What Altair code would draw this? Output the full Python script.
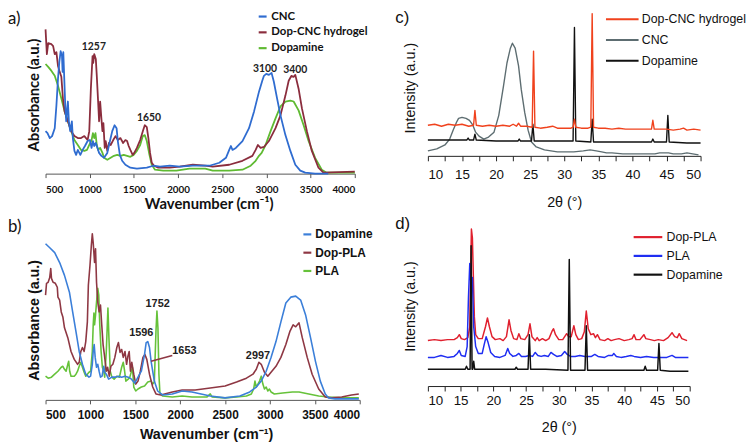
import altair as alt
import pandas as pd

# ---------------- Panel a : FTIR (CNC / Dop-CNC hydrogel / Dopamine) ----------------
A_NAMES = ["CNC", "Dop-CNC hydrogel", "Dopamine"]
A_COLORS = ["#2f6cd0", "#8b2d3d", "#5fba32"]
A_TICKS = [500, 1000, 1500, 2000, 2500, 3000, 3500, 4000]
A_CNC = [(500,43),(522,41),(548,36),(574,38),(604,46),(623,69),(641,96),(656,113),(671,124),(686,119),
         (693,103),(701,123),(712,96),(723,69),(734,53),(746,66),(753,73),(764,53),(779,43),(798,53),
         (809,36),(827,23),(846,19),(865,24),(894,19),(920,24),(946,28),(976,33),(1002,34),(1021,26),
         (1036,33),(1051,28),(1069,31),(1088,26),(1106,21),(1132,18),(1162,16),(1199,21),(1229,33),
         (1255,43),(1281,49),(1304,46),(1318,33),(1341,19),(1367,13),(1404,9),(1460,6),(1534,5),
         (1646,6),(1720,8),(1795,7),(1906,8),(2018,7),(2167,8),(2308,8),(2355,8),(2467,11),(2542,16),
         (2579,24),(2598,28),(2616,24),(2654,26),(2729,33),(2803,46),(2860,63),(2916,83),(2953,94),
         (2972,99),(2998,101),(3028,100),(3058,102),(3084,93),(3121,76),(3159,59),(3215,39),(3271,23),
         (3327,9),(3383,3),(3439,1),(3550,0),(3700,0)]
A_DOPCNC = [(500,146),(515,121),(530,132),(567,131),(586,129),(604,121),(623,123),(641,109),(660,103),
            (679,98),(697,76),(716,63),(753,53),(790,43),(827,38),(865,36),(902,36),(939,38),(976,34),
            (995,43),(1013,86),(1032,119),(1040,112),(1051,121),(1069,116),(1080,99),(1095,73),(1106,53),
            (1118,73),(1132,56),(1144,43),(1155,51),(1170,26),(1181,33),(1199,23),(1218,31),(1237,29),
            (1266,34),(1292,38),(1318,34),(1348,36),(1378,31),(1404,34),(1423,33),(1441,28),(1460,24),
            (1486,19),(1504,21),(1534,26),(1571,34),(1601,43),(1623,49),(1646,47),(1664,36),(1683,21),
            (1702,11),(1728,8),(1776,6),(1906,6),(2018,7),(2167,9),(2308,8),(2392,7),(2579,9),(2729,13),
            (2841,18),(2878,24),(2904,29),(2934,26),(2972,27),(3028,33),(3103,46),(3159,59),(3215,79),
            (3252,94),(3282,99),(3308,98),(3327,100),(3364,86),(3402,66),(3458,43),(3514,23),(3589,6),
            (3645,1),(4000,2)]
A_DOPA = [(500,111),(530,108),(567,104),(604,99),(641,89),(679,76),(716,63),(753,53),(790,43),(827,34),
          (865,29),(902,24),(939,23),(969,24),(995,29),(1021,34),(1036,41),(1051,36),(1065,41),(1080,29),
          (1095,24),(1118,26),(1144,21),(1162,16),(1199,14),(1237,16),(1274,18),(1311,19),(1348,18),
          (1385,19),(1423,18),(1460,17),(1497,19),(1534,23),(1571,29),(1601,38),(1623,39),(1646,33),
          (1676,19),(1702,9),(1739,4),(1832,3),(1981,3),(2129,5),(2308,5),(2392,3),(2579,3),(2729,4),
          (2822,8),(2878,13),(2916,18),(2946,21),(2990,29),(3047,43),(3103,56),(3159,68),(3215,73),
          (3271,74),(3308,73),(3364,64),(3421,49),(3477,33),(3551,16),(3626,4),(3682,1),(4000,1)]
A_PEAKS = [("1257", 1047, 128), ("1650", 1672, 56), ("3100", 2983, 106), ("3400", 3327, 105)]

# ---------------- Panel b : FTIR (Dopamine / Dop-PLA / PLA) ----------------
B_NAMES = ["Dopamine", "Dop-PLA", "PLA"]
B_COLORS = ["#3b7fd9", "#8e3743", "#66c23a"]
B_DOPA = [(500,158),(547,154),(602,149),(657,139),(711,126),(766,109),(802,89),(839,69),(875,49),(911,36),
          (948,26),(984,23),(1002,24),(1021,36),(1031,49),(1042,56),(1053,43),(1068,33),(1082,36),(1097,29),
          (1112,23),(1130,24),(1148,34),(1159,28),(1177,26),(1203,21),(1239,23),(1275,23),(1312,24),
          (1348,23),(1385,24),(1421,23),(1457,21),(1494,17),(1530,23),(1567,29),(1603,46),(1621,58),
          (1639,59),(1658,53),(1676,39),(1712,19),(1749,9),(1803,5),(1912,6),(2022,9),(2131,8),(2335,4),
          (2500,2),(2665,4),(2775,8),(2848,13),(2903,19),(2958,29),(3012,43),(3067,59),(3122,79),(3177,98),
          (3232,104),(3287,105),(3342,101),(3397,86),(3452,63),(3507,39),(3561,19),(3616,6),(3653,2),
          (3726,1),(3990,1)]
B_DOPPLA = [(500,106),(511,118),(529,119),(547,124),(558,133),(566,123),(584,119),(609,118),(631,114),
            (638,104),(657,101),(675,89),(693,84),(711,73),(748,63),(784,49),(820,41),(857,36),(875,38),
            (893,49),(911,53),(930,49),(948,59),(966,79),(977,116),(995,136),(1010,156),(1021,168),
            (1031,159),(1046,139),(1057,153),(1068,119),(1082,99),(1097,89),(1112,96),(1126,76),(1141,56),
            (1155,46),(1177,29),(1192,33),(1210,24),(1228,34),(1250,36),(1272,43),(1294,53),(1312,58),
            (1330,48),(1348,51),(1366,43),(1385,49),(1403,36),(1417,44),(1432,49),(1446,29),(1461,38),
            (1483,26),(1505,16),(1530,19),(1556,29),(1585,43),(1607,46),(1628,41),(1658,26),(1694,13),
            (1730,6),(1785,5),(1912,8),(2022,10),(2167,10),(2335,12),(2500,14),(2628,18),(2738,22),
            (2811,26),(2848,31),(2877,38),(2903,36),(2939,28),(2976,24),(3012,28),(3067,34),(3122,43),
            (3177,56),(3221,69),(3258,76),(3287,74),(3324,78),(3360,63),(3415,43),(3470,26),(3543,11),
            (3616,3),(3690,2),(3799,3),(3909,5),(3990,6)]
B_PLA = [(500,24),(529,22),(566,23),(602,26),(638,29),(675,33),(693,34),(711,31),(729,29),(748,36),(758,39),
         (769,29),(784,24),(820,24),(839,26),(857,29),(875,34),(893,38),(911,33),(930,28),(948,24),(984,28),
         (1002,29),(1021,49),(1031,76),(1039,88),(1046,76),(1057,86),(1068,99),(1082,113),(1093,106),
         (1104,76),(1119,49),(1133,33),(1148,29),(1159,23),(1177,49),(1188,76),(1195,93),(1206,63),
         (1221,29),(1239,23),(1264,21),(1294,24),(1323,23),(1348,33),(1366,38),(1381,29),(1395,19),
         (1421,21),(1439,23),(1457,29),(1468,33),(1483,13),(1505,9),(1530,11),(1567,13),(1603,14),
         (1639,18),(1676,19),(1694,16),(1712,18),(1730,69),(1741,90),(1752,73),(1763,26),(1774,7),
         (1803,4),(1912,3),(2022,4),(2131,3),(2299,3),(2335,6),(2354,3),(2500,2),(2628,3),(2738,4),
         (2793,6),(2818,11),(2833,19),(2848,13),(2866,16),(2884,19),(2903,24),(2921,16),(2939,11),
         (2958,13),(2976,9),(2994,11),(3012,8),(3049,6),(3141,7),(3250,8),(3324,8),(3433,6),(3543,4),
         (3653,3),(3799,2),(3990,2)]
B_PEAKS = [("1596", 1567, 68), ("1752", 1749, 97), ("1653", 2047, 49), ("2997", 2866, 44)]
B_LEADER = [(1676, 39, 1912, 45)]

# ---------------- Panel c : XRD (Dop-CNC hydrogel / CNC / Dopamine) ----------------
C_NAMES = ["Dop-CNC hydrogel", "CNC", "Dopamine"]
C_COLORS = ["#f0421d", "#5d6d71", "#111111"]
C_TICKS = [10, 12.5, 15, 17.5, 20, 22.5, 25, 27.5, 30, 32.5, 35, 37.5, 40, 42.5, 45, 47.5, 50]
C_CNC = [(10.0,5),(11.3,7),(12.5,11),(13.2,17),(13.7,26),(14.2,34),(14.5,38),(15.0,39),(15.6,38),(16.1,36),
         (16.6,31),(17.0,24),(17.5,20),(18.2,17),(18.9,19),(19.7,24),(20.4,41),(21.1,71),(21.6,94),
         (22.1,109),(22.4,114),(22.8,109),(23.3,91),(23.7,67),(24.2,44),(24.7,26),(25.2,14),(25.9,9),
         (27.1,6),(29.0,4),(31.4,4),(32.8,5),(33.8,6),(34.7,5),(35.5,4),(36.2,3),(37.0,3),(38.6,2),
         (40.0,2),(41.4,2),(43.3,2),(44.0,3),(45.3,3),(46.0,2),(47.2,2),(48.0,3),(49.7,1)]
C_DOPA = [(10,16),(12,16),(14,16),(15.7,16),(15.9,18),(16.1,16),(16.7,16),(16.9,22),(17.1,16),(20,15),
          (23.2,15),(23.4,17),(23.6,15),(25.2,15),(25.4,32),(25.6,15),(28,15),(31.3,15),(31.5,130),
          (31.7,15),(33.9,14),(34.1,37),(34.3,14),(38,14),(42.8,14),(43.0,17),(43.2,14),(45.0,14),
          (45.2,41),(45.4,14),(48,13),(50,13)]
C_DOPCNC = [(10,31),(11,32),(12,30),(13,32),(14,31),(15,32),(16,30),(16.7,31),(16.9,46),(17.1,31),(18,30),
            (19,31),(20,30),(21,31),(22,30),(22.5,32),(23,30),(23.3,33),(23.6,30),(24.5,30),(25.3,29),
            (25.5,106),(25.7,29),(26.5,28),(27.5,29),(28.3,30),(29,28),(30,28),(31,28),(31.3,29),(31.5,37),
            (31.7,29),(32.5,28),(33.5,28),(33.9,29),(34.1,144),(34.3,29),(35,28),(36,28),(37,27),(38,28),
            (39,27),(40,27),(41,27),(42,27),(42.8,27),(43.0,36),(43.2,27),(44,27),(45,27),(46,26),(47,27),
            (47.5,28),(48,26),(49,27),(50,26)]

# ---------------- Panel d : XRD (Dop-PLA / PLA / Dopamine) ----------------
D_NAMES = ["Dop-PLA", "PLA", "Dopamine"]
D_COLORS = ["#e0202e", "#1f2ef2", "#111111"]
D_DOPPLA = [(10,46),(11,47),(12,46),(13,47),(14,47),(14.5,49),(14.8,52),(15.1,48),(15.6,47),(16.1,49),
            (16.4,60),(16.55,120),(16.65,159),(16.8,150),(16.95,110),(17.1,70),(17.3,52),(17.7,48),
            (18.3,48),(18.8,60),(19.1,69),(19.4,60),(19.8,50),(20.3,47),(21,48),(21.5,46),(22,50),
            (22.4,67),(22.7,56),(23.1,48),(23.6,47),(23.9,53),(24.2,48),(24.8,47),(25.3,52),(25.6,63),
            (25.9,50),(26.4,46),(26.7,49),(27,46),(27.5,48),(28,46),(28.5,48),(29.0,56),(29.2,58),(29.5,52),
            (30,47),(30.6,47),(31.2,53),(31.5,50),(31.9,50),(32.3,61),(32.6,52),(33,47),(33.5,48),(33.9,55),
            (34.2,76),(34.5,58),(34.9,52),(35.3,53),(35.6,49),(35.9,52),(36.3,47),(37,46),(37.5,48),(38,46),
            (38.5,47),(39.2,48),(40,46),(40.7,47),(41.2,48),(41.5,52),(41.8,47),(42.4,47),(43.0,52),
            (43.3,48),(44,47),(44.6,46),(45.2,47),(46,46),(46.7,49),(47.3,54),(47.7,50),(48.1,49),(48.4,53),
            (48.8,48),(49.6,46)]
D_PLA = [(10,29),(11,29),(12,31),(13,29),(14,30),(14.5,33),(14.8,36),(15.1,31),(15.7,30),(16.0,40),(16.2,90),
         (16.4,124),(16.6,100),(16.8,110),(17.0,60),(17.3,40),(17.7,33),(18.3,33),(18.6,42),(18.9,50),
         (19.2,44),(19.6,34),(20.2,30),(21,29),(21.8,31),(22.2,38),(22.5,33),(23,30),(23.5,31),(23.9,33),
         (24.3,30),(24.9,30),(25.5,31),(26.0,30),(26.4,34),(26.8,31),(27.3,30),(27.8,31),(28.4,30),
         (28.8,34),(29.2,32),(29.7,30),(30.4,31),(30.9,35),(31.3,32),(31.8,30),(32.5,30),(33.2,31),(34,30),
         (35.0,30),(35.5,32),(36,30),(37,29),(37.6,31),(38.2,31),(38.4,33),(38.8,30),(39.5,29),(40.3,30),
         (41,31),(41.5,30),(42.5,29),(43.4,30),(44.5,29),(45.5,29),(46.5,29),(47.3,31),(47.8,29),(48.8,29),
         (49.8,29)]
D_DOPA = [(10,17),(12,17),(14,17),(15.7,17),(15.9,20),(16.1,17),(16.45,17),(16.6,142),(16.75,17),(16.85,17),
          (17.0,25),(17.15,17),(19,17),(21,17),(23.3,17),(23.5,19),(23.7,17),(25.3,17),(25.5,52),(25.7,17),
          (28,17),(31.4,16),(31.6,128),(31.8,16),(34.0,16),(34.2,61),(34.4,16),(37,16),(40,16),(43.0,16),
          (43.2,20),(43.4,16),(45.1,16),(45.3,43),(45.5,16),(47,15),(49.8,15)]


def series_df(name, pts):
    return pd.DataFrame({"series": name,
                         "x": [p[0] for p in pts],
                         "y": [p[1] for p in pts],
                         "i": list(range(len(pts)))})


def panel(series, names, colors, order, width, height, xdom, ydom, xaxis, yaxis,
          legend, title, stroke, peaks=None, peak_style=None, leaders=None, leader_color=None):
    color = alt.Color("series:N", scale=alt.Scale(domain=names, range=colors), legend=legend)
    x = alt.X("x:Q", scale=alt.Scale(domain=xdom, nice=False, zero=False), axis=xaxis)
    y = alt.Y("y:Q", scale=alt.Scale(domain=ydom, nice=False, zero=False), axis=yaxis)
    layers = []
    for n in order:
        layers.append(alt.Chart(series_df(n, series[n])).mark_line(
            strokeWidth=stroke, strokeJoin="round").encode(x=x, y=y, color=color, order="i:Q"))
    if peaks:
        pdf = pd.DataFrame(peaks, columns=["t", "x", "y"])
        layers.append(alt.Chart(pdf).mark_text(**peak_style).encode(x=x, y=y, text="t:N"))
    if leaders:
        ldf = pd.DataFrame(leaders, columns=["x", "y", "x2", "y2"])
        layers.append(alt.Chart(ldf).mark_rule(color=leader_color, strokeWidth=1.6).encode(
            x=x, y=y, x2="x2:Q", y2="y2:Q"))
    return alt.layer(*layers).properties(width=width, height=height, title=title)


def ftir_xaxis(font, size, lpad, title_font, title_size, tpad, tx):
    return alt.Axis(values=A_TICKS, format="d", title="Wavenumber (cm⁻¹)", grid=False,
                    domainColor="#555", tickColor="#555", tickSize=4, labelFont=font,
                    labelFontSize=size, labelFontWeight="bold", labelColor="#111", labelPadding=lpad,
                    titleFont=title_font, titleFontSize=title_size, titleFontWeight="bold",
                    titleColor="#111", titlePadding=tpad, titleAnchor="start", titleX=tx)


def xrd_xaxis(lpad, tpad):
    return alt.Axis(values=C_TICKS, title="2θ (°)", grid=False, domainColor="#222", tickColor="#222",
                    tickSize=5, labelFont="Liberation Sans", labelFontSize=13.5, labelColor="#111",
                    labelPadding=lpad, labelExpr="datum.value % 5 == 0 ? datum.label : ''",
                    titleFont="Liberation Sans", titleFontSize=14.5, titleFontWeight="normal",
                    titleColor="#111", titlePadding=tpad)


def yaxis(title, font, size, weight, pad, ty):
    return alt.Axis(title=title, domain=False, ticks=False, labels=False, grid=False,
                    titleFont=font, titleFontSize=size, titleFontWeight=weight, titleColor="#111",
                    titlePadding=pad, titleY=ty)


def legend(font, size, weight, lx, ly, sym, ssize, rowpad, loff):
    return alt.Legend(orient="none", legendX=lx, legendY=ly, title=None, direction="vertical",
                      symbolType=sym, symbolSize=ssize, symbolStrokeWidth=2.2,
                      symbolFillColor="transparent", labelFont=font, labelFontSize=size,
                      labelFontWeight=weight, labelColor="#111", rowPadding=rowpad,
                      labelOffset=loff, padding=0)


def label(text, font, dx, dy):
    return alt.TitleParams(text=text, anchor="start", frame="group", orient="top", offset=0,
                           dx=dx, dy=dy, baseline="middle", font=font, fontSize=17,
                           fontWeight="normal", color="#111")


pa = panel({"CNC": A_CNC, "Dop-CNC hydrogel": A_DOPCNC, "Dopamine": A_DOPA},
           A_NAMES, A_COLORS, ["Dopamine", "Dop-CNC hydrogel", "CNC"], 313, 152, [500, 4000], [0, 152],
           ftir_xaxis("Lato", 10, 7, "Lato", 15, 2.5, 100),
           yaxis("Absorbance (a.u.)", "Lato", 15, "bold", 4.5, 72),
           legend("Lato", 11.5, "bold", 214, -12.75, "stroke", 64, 3, 3),
           label("a)", "Lato", -38, 25), 1.8,
           peaks=A_PEAKS, peak_style=dict(font="Lato", fontSize=10.5, fontWeight="bold", color="#222"))

pb = panel({"Dopamine": B_DOPA, "Dop-PLA": B_DOPPLA, "PLA": B_PLA},
           B_NAMES, B_COLORS, ["PLA", "Dop-PLA", "Dopamine"], 318, 170, [500, 4000], [0, 170],
           ftir_xaxis("Liberation Sans", 12, 6, "Liberation Sans", 14.5, 7.5, 95),
           yaxis("Absorbance (a.u.)", "Liberation Sans", 14.5, "bold", 4.5, 89),
           legend("Liberation Sans", 12, "bold", 259, -3.5, "stroke", 64, 6.5, 2),
           label("b)", "Lato", -38, 15.5), 1.6,
           peaks=B_PEAKS, peak_style=dict(font="Liberation Sans", fontSize=11, fontWeight="bold", color="#222"),
           leaders=B_LEADER, leader_color=B_COLORS[1])

pc = panel({"Dop-CNC hydrogel": C_DOPCNC, "CNC": C_CNC, "Dopamine": C_DOPA},
           C_NAMES, C_COLORS, ["CNC", "Dopamine", "Dop-CNC hydrogel"], 276, 134, [10, 50], [0, 134],
           xrd_xaxis(7, 15),
           yaxis("Intensity (a.u.)", "Liberation Sans", 14.5, "normal", 11, 65),
           legend("Liberation Sans", 12.5, "normal", 195.5, -13.75, "M-3,0H1", 272, 5, 2),
           label("c)", "Liberation Sans", -33, 25.25), 1.4)

pd_ = panel({"Dop-PLA": D_DOPPLA, "PLA": D_PLA, "Dopamine": D_DOPA},
            D_NAMES, D_COLORS, ["Dop-PLA", "PLA", "Dopamine"], 265, 156, [10, 50], [0, 156],
            xrd_xaxis(3, 13.8),
            yaxis("Intensity (a.u.)", "Liberation Sans", 14.5, "normal", 11, 75),
            legend("Liberation Sans", 12.5, "normal", 221.5, -3.25, "M-3,0H1", 210, 4, 3),
            label("d)", "Liberation Sans", -33, 13.25), 1.5)

chart = alt.concat(pa, pc, pb, pd_, columns=2, spacing={"row": 59, "column": 69},
                   bounds="flush", align="each").resolve_scale(
    color="independent").resolve_legend(color="independent").properties(
    padding={"top": -2, "left": 0, "right": 0, "bottom": 0}).configure_view(stroke=None)

chart.save("out.html", embed_options={"renderer": "svg", "actions": False})
